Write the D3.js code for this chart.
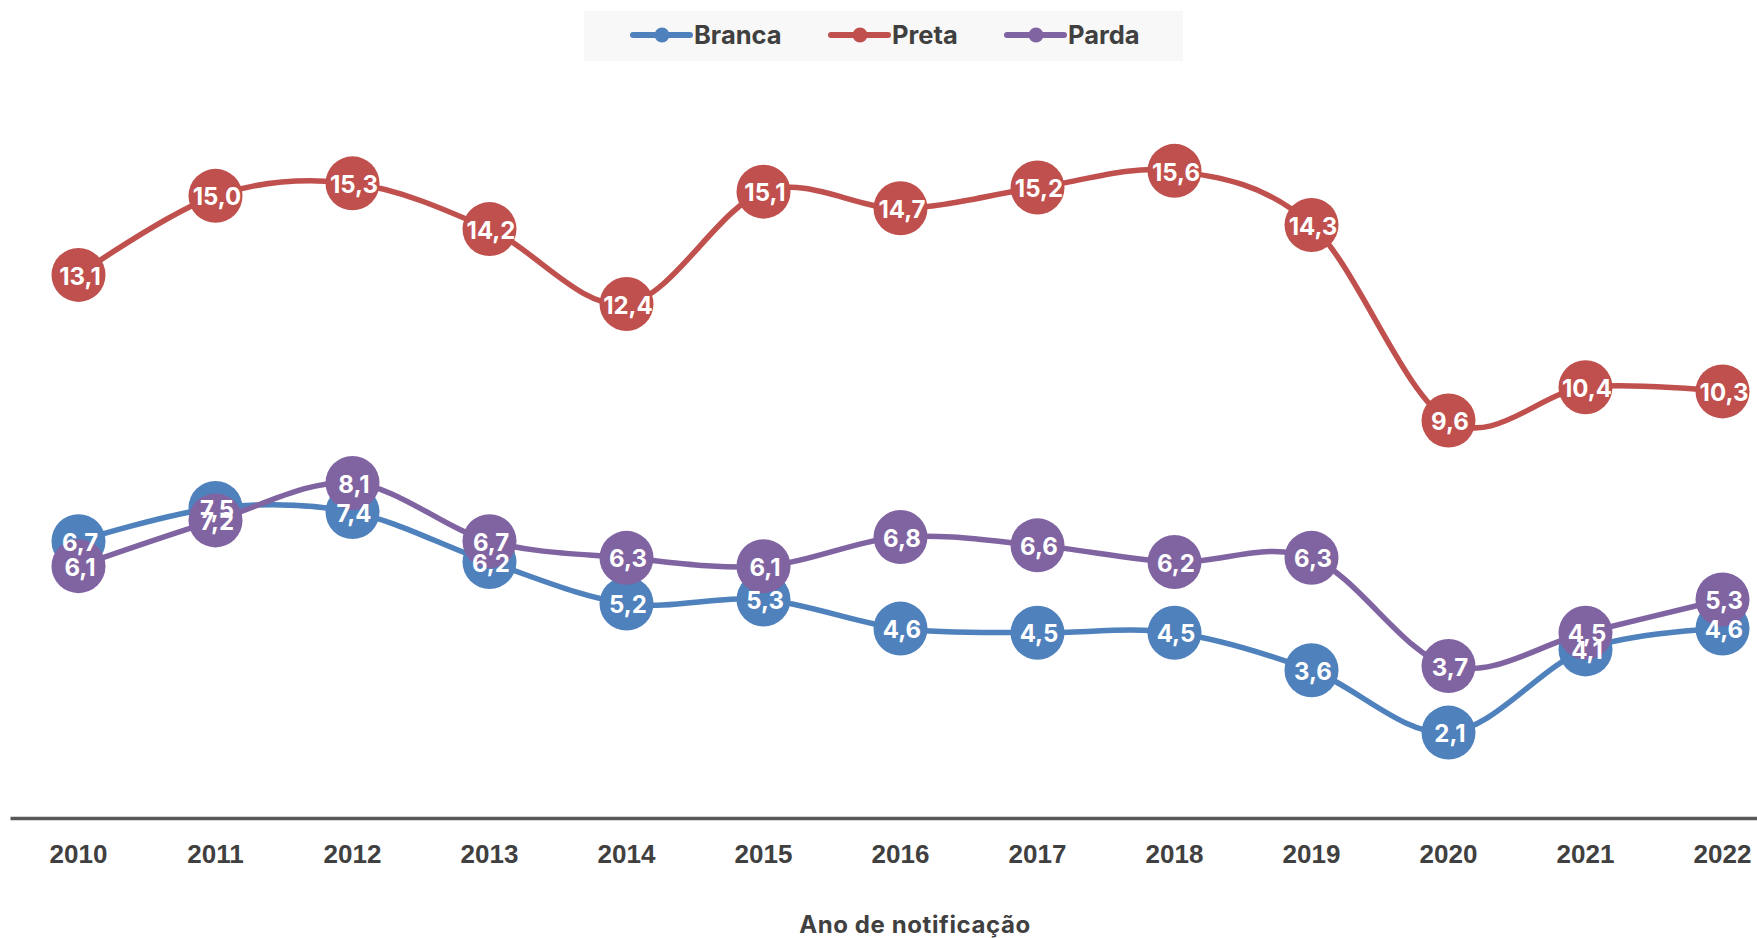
<!DOCTYPE html>
<html>
<head>
<meta charset="utf-8">
<script src="https://cdn.jsdelivr.net/npm/d3@7"></script>
<style>
  body { margin: 0; background: #fff; }
  svg { display: block; }
</style>
</head>
<body>
<script>
const width = 1757
const height = 938

const years = ['2010', '2011', '2012', '2013', '2014', '2015', '2016', '2017', '2018', '2019', '2020', '2021', '2022']
const branca = [6.7, 7.5, 7.4, 6.2, 5.2, 5.3, 4.6, 4.5, 4.5, 3.6, 2.1, 4.1, 4.6]
const preta = [13.1, 15.0, 15.3, 14.2, 12.4, 15.1, 14.7, 15.2, 15.6, 14.3, 9.6, 10.4, 10.3]
const parda = [6.1, 7.2, 8.1, 6.7, 6.3, 6.1, 6.8, 6.6, 6.2, 6.3, 3.7, 4.5, 5.3]
const seriesNames = ['Branca', 'Preta', 'Parda']
const colors = ['#4f81bd', '#c0504d', '#8064a2']

const series = [branca, preta, parda].map((values, i) => ({
  name: seriesNames[i],
  color: colors[i],
  points: values.map((v, j) => ({ year: years[j], value: v }))
}))

const svg = d3.select('body').append('svg')
  .attr('width', width)
  .attr('height', height)

// category axis runs past the right edge, like the original export
const x = d3.scaleBand().domain(years).range([10, 1791])
const y = d3.scaleLinear().domain([0, 18]).range([820, 71])
const cx = d => x(d.year) + x.bandwidth() / 2

// legend
const legend = svg.append('g')
legend.append('rect')
  .attr('x', 584).attr('y', 11)
  .attr('width', 599).attr('height', 50)
  .attr('fill', '#f8f8f8')

const legendX = [633, 831, 1007]
series.forEach((s, i) => {
  const g = legend.append('g').attr('transform', `translate(${legendX[i]},35)`)
  g.append('line')
    .attr('x1', 0).attr('x2', 57)
    .attr('stroke', s.color).attr('stroke-width', 6).attr('stroke-linecap', 'round')
  g.append('circle').attr('cx', 29).attr('r', 7.5).attr('fill', s.color)
  g.append('text')
    .attr('x', 61).attr('y', 0).attr('dy', '0.36em')
    .attr('font-family', 'Inter, Roboto, sans-serif')
    .attr('font-weight', 700).attr('font-size', 25.5)
    .attr('fill', '#404040')
    .text(s.name)
})

// x axis
const axis = svg.append('g')
  .attr('transform', `translate(0,${y(0) - 2})`)
  .call(d3.axisBottom(x).tickSize(0).tickPadding(27))
axis.select('.domain').attr('stroke', '#595959').attr('stroke-width', 3.5)
axis.selectAll('text')
  .attr('font-family', '"Liberation Sans", Arial, sans-serif')
  .attr('font-weight', 700).attr('font-size', 26)
  .attr('fill', '#404040')

svg.append('text')
  .attr('x', 915).attr('y', 924).attr('dy', '0.36em')
  .attr('text-anchor', 'middle')
  .attr('font-family', 'Inter, Roboto, sans-serif')
  .attr('font-weight', 700).attr('font-size', 24)
  .attr('letter-spacing', 0.6)
  .attr('fill', '#404040')
  .text('Ano de notificação')

const line = d3.line()
  .x(cx)
  .y(d => y(d.value))
  .curve(d3.curveCatmullRom.alpha(0))

// each series: line then markers, labels on top of everything
series.forEach(s => {
  const g = svg.append('g')
  g.append('path')
    .datum(s.points)
    .attr('d', line)
    .attr('fill', 'none')
    .attr('stroke', s.color)
    .attr('stroke-width', 5.5)
    .attr('stroke-linecap', 'round')
  g.selectAll('circle')
    .data(s.points)
    .enter()
    .append('circle')
    .attr('cx', cx)
    .attr('cy', d => y(d.value))
    .attr('r', 27)
    .attr('fill', s.color)
})

const fmt = v => v.toFixed(1).replace('.', ',')
series.forEach(s => {
  svg.append('g').selectAll('text')
    .data(s.points)
    .enter()
    .append('text')
    .attr('x', d => cx(d) + 1.5)
    .attr('y', d => y(d.value) + 1)
    .attr('dy', '0.36em')
    .attr('text-anchor', 'middle')
    .attr('font-family', 'Inter, Roboto, sans-serif')
    .attr('font-weight', 700).attr('font-size', 24)
    .attr('fill', '#fff')
    .text(d => fmt(d.value))
})
</script>
</body>
</html>
